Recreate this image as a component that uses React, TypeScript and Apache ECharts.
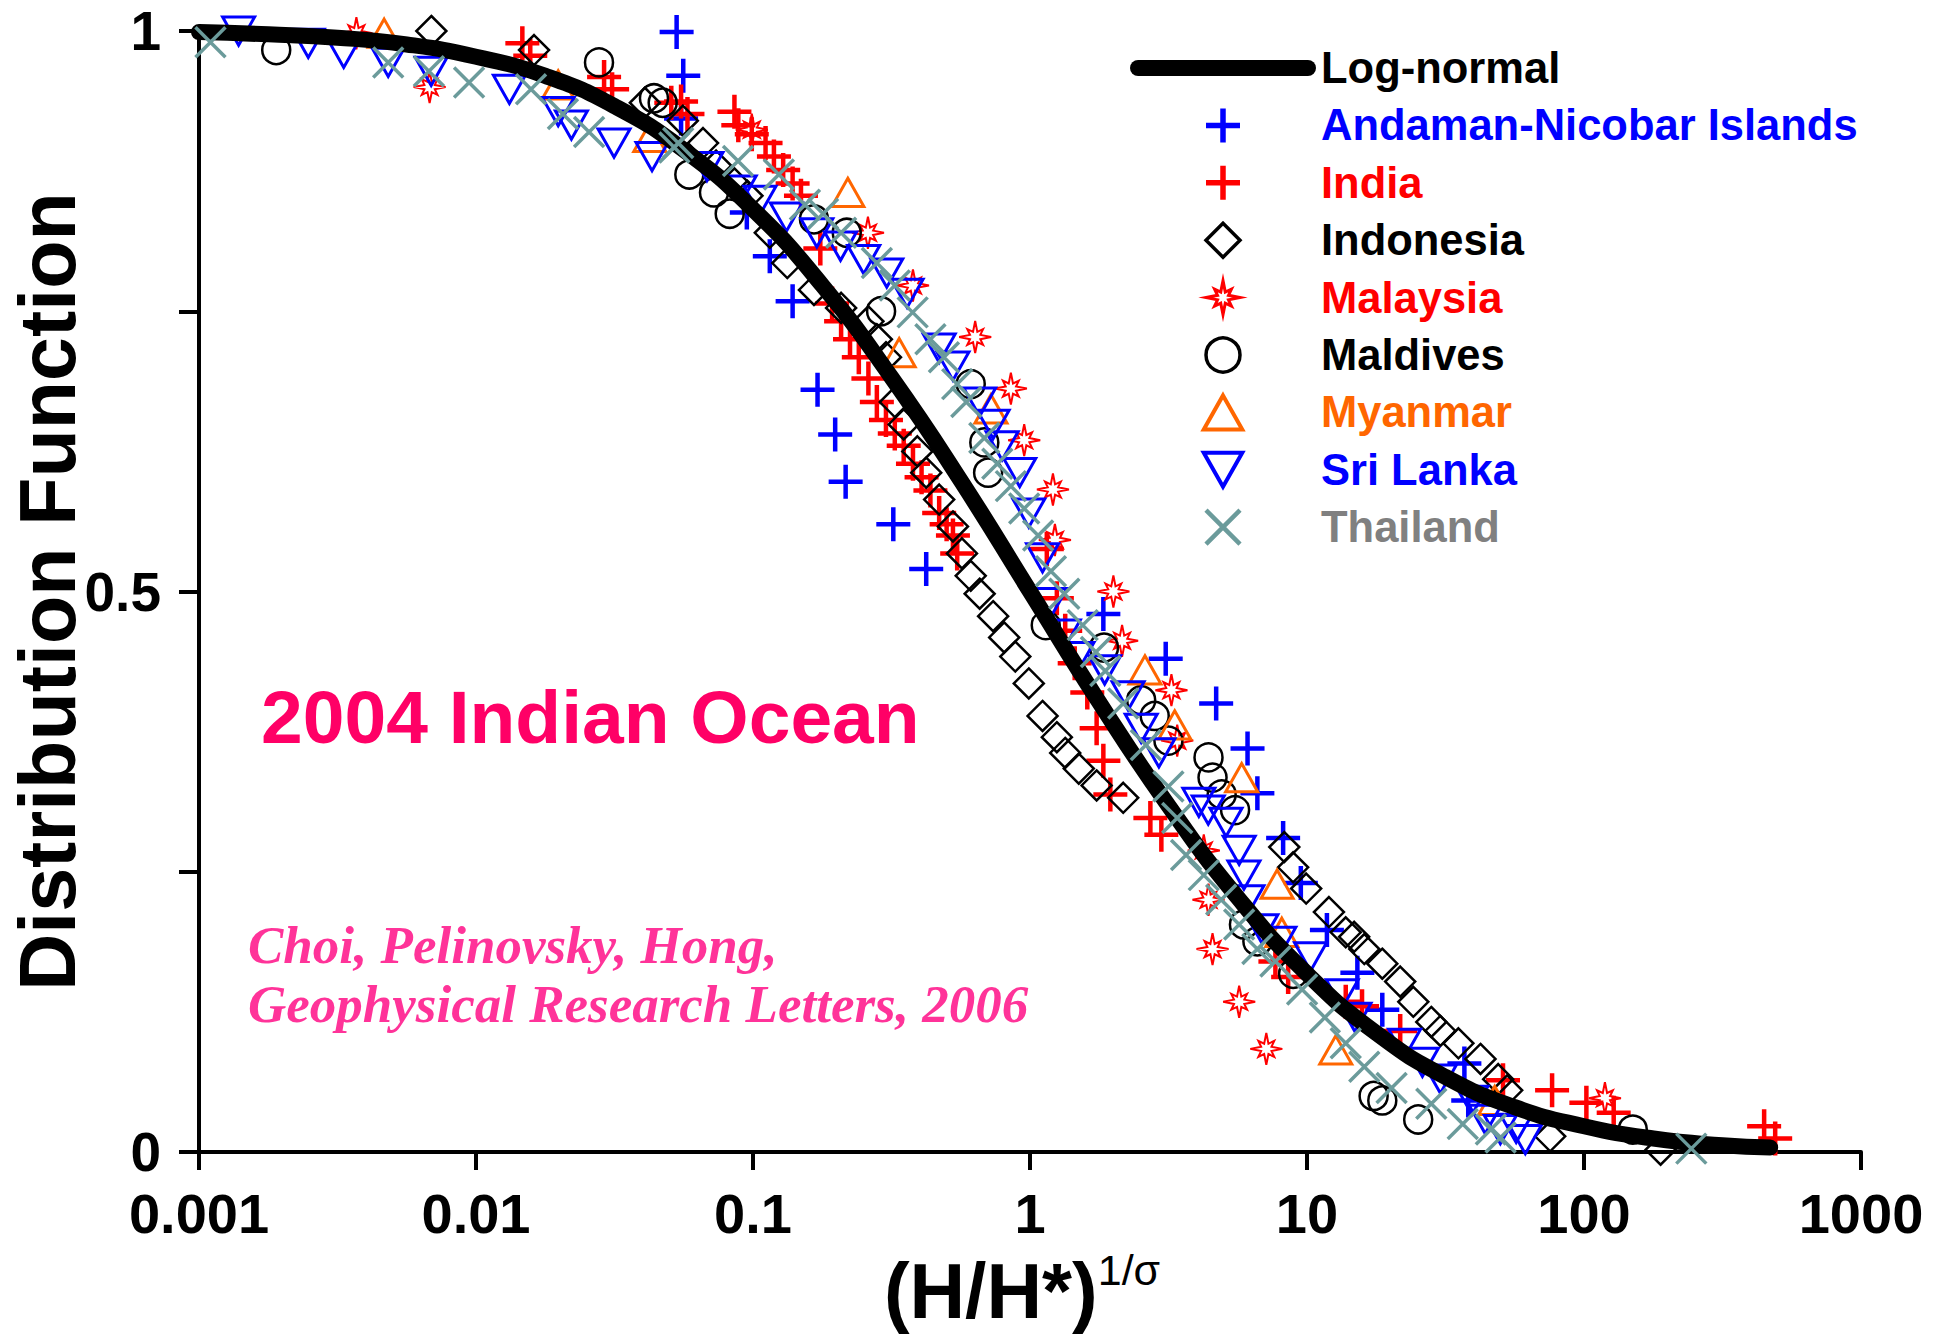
import React, { useEffect, useRef } from "react";
import * as echarts from "echarts";

// ---------- data ----------
const xTickLabels = ["0.001", "0.01", "0.1", "1", "10", "100", "1000"];
const yTickLabels: Record<string, string> = { "0": "0", "0.5": "0.5", "1": "1" };

const logNormalX = [0.001, 0.00178, 0.00316, 0.00562, 0.01, 0.0178, 0.0316, 0.0562, 0.1, 0.178, 0.316, 0.562, 1, 1.78, 3.16, 5.62, 10, 17.8, 31.6, 56.2, 100, 178, 316, 470];
const logNormalF = [0.999, 0.997, 0.994, 0.988, 0.977, 0.96, 0.933, 0.894, 0.841, 0.773, 0.691, 0.599, 0.5, 0.401, 0.309, 0.227, 0.159, 0.106, 0.067, 0.04, 0.023, 0.012, 0.006, 0.004];

const andamanX = [0.053, 0.056, 0.055, 0.095, 0.115, 0.139, 0.171, 0.198, 0.216, 0.321, 0.422, 1.84, 3.09, 4.7, 6.1, 6.62, 8.2, 9.5, 11.8, 15.2, 18.7, 37, 38.2];
const andamanF = [0.999, 0.96, 0.922, 0.838, 0.799, 0.759, 0.68, 0.64, 0.598, 0.56, 0.52, 0.48, 0.44, 0.4, 0.36, 0.32, 0.28, 0.24, 0.198, 0.16, 0.127, 0.079, 0.046];

const indiaX = [0.0147, 0.0157, 0.029, 0.031, 0.0507, 0.055, 0.058, 0.0857, 0.0885, 0.099, 0.111, 0.119, 0.1285, 0.139, 0.149, 0.175, 0.193, 0.208, 0.224, 0.241, 0.261, 0.28, 0.302, 0.325, 0.35, 0.378, 0.406, 0.437, 0.47, 0.5, 0.527, 0.546, 1.15, 1.25, 1.34, 1.45, 1.61, 1.74, 1.84, 1.95, 2.72, 2.98, 7.69, 8.55, 13.8, 15.8, 21.7, 51, 76.7, 102, 128, 447, 490];
const indiaF = [0.989, 0.978, 0.959, 0.948, 0.936, 0.937, 0.926, 0.928, 0.916, 0.908, 0.9, 0.888, 0.876, 0.864, 0.853, 0.806, 0.757, 0.741, 0.725, 0.709, 0.69, 0.669, 0.653, 0.641, 0.63, 0.614, 0.602, 0.59, 0.57, 0.56, 0.55, 0.534, 0.538, 0.494, 0.465, 0.436, 0.41, 0.378, 0.349, 0.319, 0.298, 0.283, 0.17, 0.156, 0.134, 0.13, 0.108, 0.064, 0.055, 0.044, 0.035, 0.023, 0.012];

const indonesiaX = [0.0069, 0.0162, 0.0407, 0.0558, 0.066, 0.0736, 0.0857, 0.0955, 0.115, 0.133, 0.166, 0.208, 0.261, 0.28, 0.302, 0.325, 0.35, 0.392, 0.422, 0.47, 0.527, 0.568, 0.611, 0.658, 0.736, 0.807, 0.885, 0.99, 1.11, 1.25, 1.34, 1.5, 1.74, 2.17, 8.28, 8.91, 9.93, 12.0, 13.8, 14.8, 16.1, 18.7, 21.7, 24.2, 28.1, 30.3, 35.2, 42.3, 49, 52.8, 75.5, 189];
const indonesiaF = [1.0, 0.983, 0.936, 0.92, 0.9, 0.88, 0.864, 0.853, 0.82, 0.793, 0.769, 0.753, 0.741, 0.725, 0.709, 0.669, 0.649, 0.625, 0.606, 0.582, 0.558, 0.534, 0.514, 0.498, 0.478, 0.459, 0.442, 0.418, 0.389, 0.37, 0.356, 0.342, 0.327, 0.316, 0.272, 0.254, 0.235, 0.214, 0.196, 0.192, 0.181, 0.168, 0.152, 0.134, 0.116, 0.108, 0.097, 0.083, 0.065, 0.055, 0.014, 0.002];

const malaysiaX = [0.0037, 0.0068, 0.099, 0.26, 0.378, 0.634, 0.853, 0.953, 1.21, 1.23, 2.0, 2.15, 3.24, 3.4, 4.24, 4.41, 4.56, 5.69, 7.13, 119];
const malaysiaF = [0.998, 0.95, 0.912, 0.82, 0.773, 0.727, 0.681, 0.635, 0.591, 0.546, 0.5, 0.456, 0.412, 0.367, 0.269, 0.225, 0.181, 0.134, 0.092, 0.048];

const maldivesX = [0.0019, 0.0278, 0.0439, 0.0472, 0.0589, 0.0723, 0.0824, 0.166, 0.218, 0.29, 0.611, 0.684, 0.706, 1.14, 1.85, 2.52, 2.82, 3.16, 4.41, 4.56, 4.92, 5.5, 5.92, 6.62, 8.91, 17.4, 18.7, 25.2, 150];
const maldivesF = [0.983, 0.972, 0.94, 0.936, 0.872, 0.856, 0.837, 0.832, 0.82, 0.75, 0.685, 0.633, 0.606, 0.47, 0.45, 0.403, 0.389, 0.367, 0.352, 0.334, 0.319, 0.305, 0.203, 0.188, 0.159, 0.05, 0.046, 0.029, 0.02];

const myanmarX = [0.00466, 0.0198, 0.0424, 0.22, 0.337, 0.723, 2.6, 3.33, 5.81, 7.8, 8.11, 12.7, 47.6];
const myanmarF = [0.998, 0.952, 0.905, 0.856, 0.713, 0.663, 0.43, 0.381, 0.334, 0.239, 0.196, 0.091, 0.046];

const sriLankaX = [0.00139, 0.00248, 0.00333, 0.00482, 0.00689, 0.0132, 0.0198, 0.0221, 0.0315, 0.0432, 0.0682, 0.0899, 0.106, 0.132, 0.17, 0.207, 0.251, 0.304, 0.36, 0.47, 0.527, 0.658, 0.736, 0.793, 0.918, 0.99, 1.11, 1.19, 1.33, 1.49, 1.86, 2.26, 2.52, 2.92, 4.07, 4.4, 5.1, 5.69, 5.92, 6.12, 6.87, 7.98, 10.3, 13.4, 14.9, 22.5, 26.1, 30.3, 39.4, 44, 49.9, 56.9, 61.4];
const sriLankaF = [1.0, 0.989, 0.98, 0.972, 0.964, 0.948, 0.928, 0.916, 0.9, 0.888, 0.879, 0.858, 0.849, 0.834, 0.82, 0.808, 0.796, 0.784, 0.766, 0.717, 0.701, 0.669, 0.649, 0.63, 0.606, 0.57, 0.53, 0.49, 0.462, 0.442, 0.43, 0.407, 0.378, 0.356, 0.312, 0.305, 0.294, 0.269, 0.247, 0.225, 0.199, 0.188, 0.174, 0.141, 0.12, 0.097, 0.08, 0.065, 0.046, 0.029, 0.02, 0.021, 0.011];

const thailandX = [0.0011, 0.00482, 0.00676, 0.00944, 0.0158, 0.0206, 0.0256, 0.052, 0.0537, 0.0883, 0.124, 0.154, 0.179, 0.208, 0.28, 0.325, 0.377, 0.437, 0.489, 0.546, 0.589, 0.684, 0.762, 0.853, 0.953, 1.07, 1.19, 1.33, 1.55, 1.73, 1.87, 2.17, 2.62, 3.16, 3.4, 3.66, 4.24, 4.9, 5.69, 6.62, 7.69, 9.6, 11.6, 13.8, 16.1, 20.2, 28.1, 36.5, 46.1, 50, 244];
const thailandF = [0.99, 0.972, 0.964, 0.954, 0.948, 0.926, 0.91, 0.896, 0.9, 0.884, 0.872, 0.845, 0.837, 0.82, 0.793, 0.773, 0.749, 0.725, 0.709, 0.685, 0.669, 0.637, 0.614, 0.594, 0.574, 0.55, 0.518, 0.498, 0.47, 0.446, 0.429, 0.4, 0.363, 0.326, 0.298, 0.265, 0.247, 0.225, 0.203, 0.181, 0.17, 0.145, 0.12, 0.097, 0.076, 0.057, 0.043, 0.025, 0.02, 0.013, 0.003];

// ---------- styles ----------
const SANS = '"Liberation Sans", Arial, sans-serif';
const SERIF = '"Liberation Serif", "Times New Roman", serif';

const PLUS = "path://M17,0V34M0,17H34";
const CROSS = "path://M0,0L34,34M34,0L0,34";
const DIAMOND = "path://M17,0L34,17L17,34L0,17Z";
const UP_TRI = "path://M17,0L34,30L0,30Z";
const DOWN_TRI = "path://M0,0L34,0L17,30Z";
const STAR =
  "path://M17,0L19.28,11.51L25.42,8.59L22.49,14.72L34,17L22.49,19.28L25.42,25.42L19.28,22.49L17,34L14.72,22.49L8.59,25.42L11.51,19.28L0,17L11.51,14.72L8.59,8.59L14.72,11.51Z";
const BAR = "path://M8,0L176,0A8,8,0,0,1,176,16L8,16A8,8,0,0,1,8,0Z";

const pairs = (xs: number[], ys: number[]) => xs.map((x, i) => [x, ys[i]]);

type Spec = {
  name: string;
  xs: number[];
  ys: number[];
  symbol: string;
  size: number;
  color: string;
  width: number;
  text: string;
  z: number;
};

const scatterSpecs: Spec[] = [
  { name: "Andaman-Nicobar Islands", xs: andamanX, ys: andamanF, symbol: PLUS, size: 34, color: "#0000FF", width: 4.5, text: "#0000FF", z: 2 },
  { name: "India", xs: indiaX, ys: indiaF, symbol: PLUS, size: 34, color: "#FF0000", width: 4.5, text: "#FF0000", z: 2 },
  { name: "Indonesia", xs: indonesiaX, ys: indonesiaF, symbol: DIAMOND, size: 30, color: "#000000", width: 2.5, text: "#000000", z: 2 },
  { name: "Malaysia", xs: malaysiaX, ys: malaysiaF, symbol: STAR, size: 32, color: "#FF0000", width: 2, text: "#FF0000", z: 2 },
  { name: "Maldives", xs: maldivesX, ys: maldivesF, symbol: "circle", size: 28, color: "#000000", width: 2.5, text: "#000000", z: 2 },
  { name: "Myanmar", xs: myanmarX, ys: myanmarF, symbol: UP_TRI, size: 32, color: "#FF6600", width: 3, text: "#FF6600", z: 2 },
  { name: "Sri Lanka", xs: sriLankaX, ys: sriLankaF, symbol: DOWN_TRI, size: 32, color: "#0000FF", width: 3, text: "#0000FF", z: 2 },
  { name: "Thailand", xs: thailandX, ys: thailandF, symbol: CROSS, size: 30, color: "#6B9B9B", width: 3.5, text: "#808080", z: 4 },
];

export default function App() {
  const ref = useRef<HTMLDivElement>(null);

  useEffect(() => {
    if (!ref.current) return;
    const chart = echarts.init(ref.current, null, { renderer: "svg" });

    const scatterSeries = scatterSpecs.map((s) => ({
      name: s.name,
      type: "scatter",
      data: pairs(s.xs, s.ys),
      symbol: s.symbol,
      symbolSize: s.size,
      symbolKeepAspect: true,
      z: s.z,
      itemStyle: {
        color: "rgba(0,0,0,0)",
        borderColor: s.color,
        borderWidth: s.width,
        opacity: 1,
      },
      emphasis: { disabled: true },
    }));

    const option: any = {
      animation: false,
      backgroundColor: "#ffffff",
      grid: {
        left: 199,
        right: 87,
        top: 31,
        bottom: 185,
        containLabel: false,
        outerBoundsMode: "none",
      },
      xAxis: {
        type: "log",
        logBase: 10,
        min: 0.001,
        max: 1000,
        axisLine: { show: true, lineStyle: { color: "#000", width: 4 } },
        axisTick: { show: true, inside: false, length: 18, lineStyle: { color: "#000", width: 4 } },
        minorTick: { show: false },
        splitLine: { show: false },
        axisLabel: {
          color: "#000",
          fontSize: 56,
          fontWeight: "bold",
          fontFamily: SANS,
          margin: 33,
          formatter: (v: number) => xTickLabels[Math.round(Math.log10(v)) + 3] ?? "",
        },
        name: "{a|(H/H*)}{b|1/σ}",
        nameLocation: "middle",
        nameGap: 96,
        nameMoveOverlap: false,
        nameTextStyle: {
          color: "#000",
          fontFamily: SANS,
          rich: {
            a: { fontSize: 77, fontWeight: "bold", fontFamily: SANS, color: "#000", lineHeight: 86 },
            b: { fontSize: 43, fontFamily: SANS, color: "#000", verticalAlign: "top", lineHeight: 46, padding: [0, 16, 0, 0] },
          },
        },
      },
      yAxis: {
        type: "value",
        min: 0,
        max: 1,
        interval: 0.25,
        axisLine: { show: true, lineStyle: { color: "#000", width: 4 } },
        axisTick: { show: true, inside: false, length: 20, lineStyle: { color: "#000", width: 4 } },
        splitLine: { show: false },
        axisLabel: {
          color: "#000",
          fontSize: 55,
          fontWeight: "bold",
          fontFamily: SANS,
          margin: 38,
          formatter: (v: number) => yTickLabels[String(v)] ?? "",
        },
        name: "Distribution Function",
        nameLocation: "middle",
        nameRotate: 90,
        nameGap: 112,
        nameMoveOverlap: false,
        nameTextStyle: { color: "#000", fontSize: 79, fontWeight: "bold", fontFamily: SANS },
      },
      legend: {
        orient: "vertical",
        left: 1130,
        top: 46,
        padding: 0,
        itemWidth: 186,
        itemHeight: 34,
        itemGap: 13.4,
        selectedMode: false,
        symbolKeepAspect: true,
        textStyle: { fontSize: 43.5, fontWeight: "bold", fontFamily: SANS },
        data: [
          { name: "Log-normal", icon: BAR, itemStyle: { color: "#000" }, textStyle: { color: "#000" } },
          ...scatterSpecs.map((s) => ({
            name: s.name,
            textStyle: { color: s.text },
            itemStyle: { color: "rgba(0,0,0,0)", borderColor: s.color, borderWidth: s.width + 1 },
          })),
        ],
      },
      graphic: [
        {
          type: "text",
          x: 261,
          y: 717,
          style: {
            text: "2004 Indian Ocean",
            fill: "#FF0066",
            fontSize: 75,
            fontWeight: "bold",
            fontFamily: SANS,
            verticalAlign: "middle",
          },
        },
        {
          type: "text",
          x: 248,
          y: 945,
          style: {
            text: "Choi, Pelinovsky, Hong,",
            fill: "#FF3399",
            fontSize: 53,
            fontWeight: "bold",
            fontStyle: "italic",
            fontFamily: SERIF,
            verticalAlign: "middle",
          },
        },
        {
          type: "text",
          x: 248,
          y: 1004,
          style: {
            text: "Geophysical Research Letters, 2006",
            fill: "#FF3399",
            fontSize: 53,
            fontWeight: "bold",
            fontStyle: "italic",
            fontFamily: SERIF,
            verticalAlign: "middle",
          },
        },
      ],
      series: [
        ...scatterSeries.slice(0, 7),
        {
          name: "Log-normal",
          type: "line",
          data: pairs(logNormalX, logNormalF),
          smooth: true,
          symbol: "none",
          showSymbol: false,
          z: 3,
          itemStyle: { color: "#000" },
          lineStyle: { color: "#000", width: 16, cap: "round" },
          emphasis: { disabled: true },
        },
        scatterSeries[7],
      ],
    };

    chart.setOption(option);
    return () => chart.dispose();
  }, []);

  return (
    <div
      ref={ref}
      style={{ position: "absolute", left: 0, top: 0, width: 1948, height: 1337, background: "#fff" }}
    />
  );
}
